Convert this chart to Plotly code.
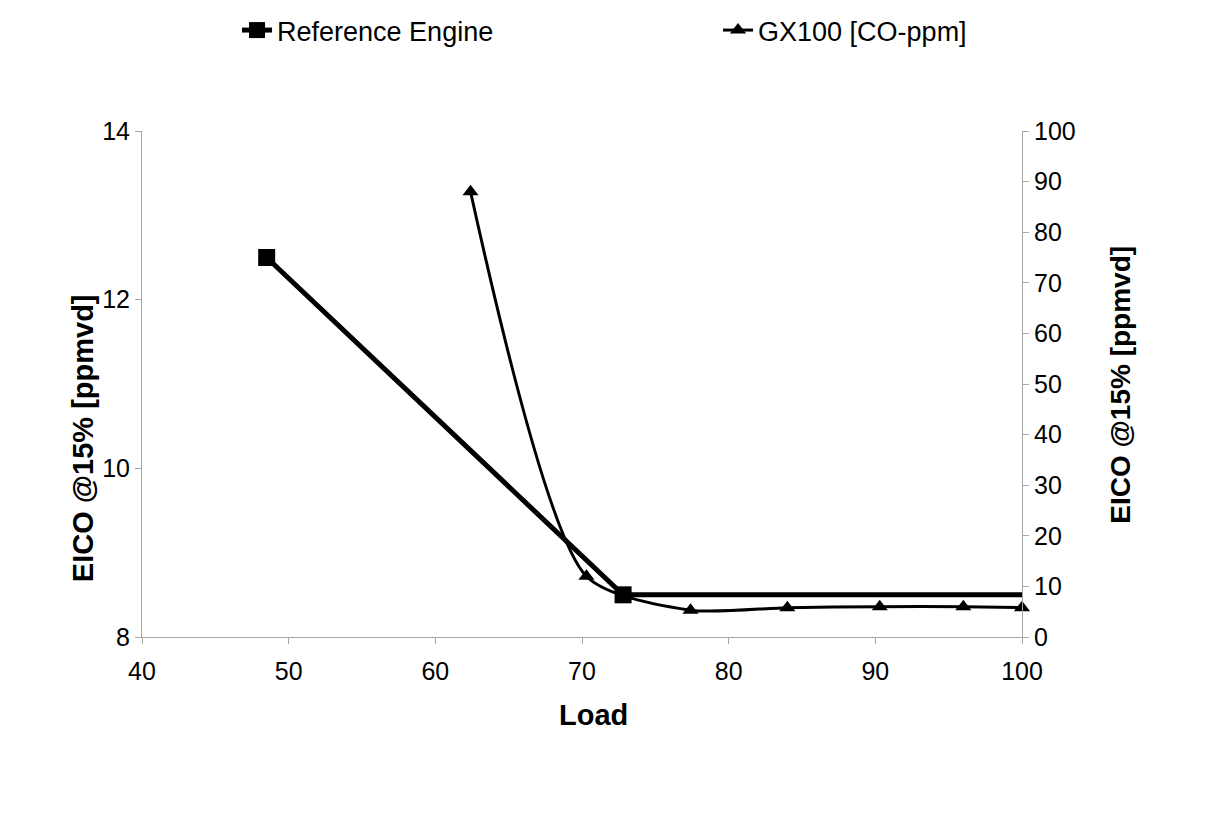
import plotly.graph_objects as go

# Engine load (%) and CO emissions
ref_load = [48.5, 72.8, 100]
ref_eico = [12.5, 8.5, 8.5]

gx_load = [62.4, 70.3, 77.4, 84.0, 90.3, 96.0, 100]
gx_co = [88, 12, 5.3, 5.8, 6.0, 6.0, 5.8]

FONT = "Liberation Sans, Arial, sans-serif"
AXIS_GRAY = "#a6a6a6"
TICK_SIZE = 25
TITLE_SIZE = 29

fig = go.Figure()

# Last point of the reference curve carries no marker
fig.add_trace(go.Scatter(
    x=ref_load, y=ref_eico, name="Reference Engine",
    mode="lines+markers",
    line=dict(color="black", width=5),
    marker=dict(symbol="square", size=17,
                color=["black", "black", "rgba(0,0,0,0)"]),
    yaxis="y", legend="legend",
))

fig.add_trace(go.Scatter(
    x=gx_load, y=gx_co, name="GX100 [CO-ppm]",
    mode="lines+markers",
    line=dict(color="black", width=3, shape="spline", smoothing=0.7),
    marker=dict(symbol="triangle-up", size=14, color="black"),
    cliponaxis=False,
    yaxis="y2", legend="legend2",
))

axis_common = dict(
    showgrid=False, zeroline=False,
    showline=True, linecolor=AXIS_GRAY, linewidth=1,
    ticks="outside", tickcolor=AXIS_GRAY, ticklen=6,
    tickfont=dict(size=TICK_SIZE),
)

legend_common = dict(
    orientation="h", yanchor="top", y=1.247, xanchor="left",
    font=dict(family=FONT, size=27), bgcolor="rgba(0,0,0,0)",
)

title_common = dict(xref="paper", yref="paper", showarrow=False,
                    xanchor="center", yanchor="middle")

fig.update_layout(
    width=1212, height=820,
    margin=dict(l=142, r=190, t=131, b=183, autoexpand=False),
    paper_bgcolor="white", plot_bgcolor="white",
    font=dict(family=FONT, size=TICK_SIZE, color="black"),
    showlegend=True,
    legend=dict(x=0.108, **legend_common),
    legend2=dict(x=0.6546, **legend_common),
    xaxis=dict(range=[40, 100], dtick=10, tick0=40, ticklabelstandoff=6, **axis_common),
    yaxis=dict(range=[8, 14], dtick=2, tick0=8, **axis_common),
    yaxis2=dict(range=[0, 100], dtick=10, tick0=0,
                overlaying="y", side="right", **axis_common),
    annotations=[
        dict(text="<b>Load</b>", x=0.5125, y=-0.154,
             font=dict(size=TITLE_SIZE), **title_common),
        dict(text="<b>EICO @15% [ppmvd]</b>", x=-0.067, y=0.393,
             textangle=-90, font=dict(size=TITLE_SIZE), **title_common),
        dict(text="<b>EICO @15% [ppmvd]</b>", x=1.111, y=0.498,
             textangle=-90, font=dict(size=TITLE_SIZE - 1), **title_common),
    ],
)

fig.write_html("out.html")
